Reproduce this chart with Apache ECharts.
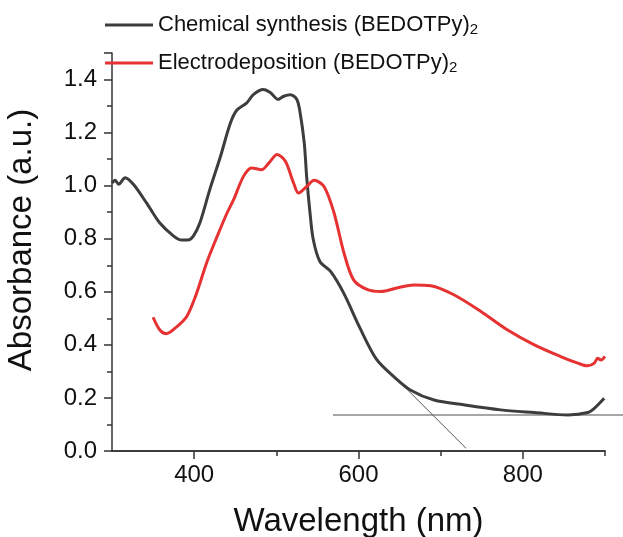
<!DOCTYPE html>
<html>
<head>
<meta charset="utf-8">
<script src="https://cdn.jsdelivr.net/npm/echarts@6/dist/echarts.min.js"></script>
<style>
  html, body { margin: 0; padding: 0; background: #fff; }
  #chart { width: 623px; height: 537px; }
</style>
</head>
<body>
<div id="chart"></div>
<script>
// wavelength (nm), absorbance (a.u.)
const chemical = [
  [300, 1.01], [304, 1.02], [308, 1.005], [316, 1.03], [326, 1.005], [342, 0.935],
  [358, 0.86], [375, 0.81], [385, 0.795], [392, 0.795], [399, 0.81], [407, 0.86],
  [419, 0.985], [432, 1.11], [444, 1.235], [452, 1.285], [464, 1.312], [472, 1.343],
  [484, 1.362], [493, 1.35], [502, 1.325], [509, 1.337], [517, 1.343], [525, 1.325],
  [529, 1.274], [534, 1.16], [537, 1.03], [541, 0.897], [545, 0.796], [553, 0.714],
  [566, 0.677], [582, 0.595], [602, 0.462], [622, 0.345], [643, 0.28], [663, 0.23],
  [692, 0.192], [728, 0.174], [773, 0.155], [814, 0.145], [855, 0.136], [879, 0.145],
  [887, 0.161], [899, 0.199]
];
const electro = [
  [350, 0.504], [358, 0.457], [366, 0.442], [379, 0.469], [391, 0.507], [403, 0.595],
  [415, 0.708], [428, 0.809], [440, 0.897], [448, 0.947], [460, 1.035], [470, 1.067],
  [482, 1.06], [491, 1.086], [501, 1.117], [511, 1.092], [521, 1.01], [527, 0.972],
  [537, 0.997], [546, 1.02], [558, 0.997], [570, 0.9], [582, 0.75], [594, 0.645],
  [611, 0.608], [627, 0.601], [648, 0.615], [667, 0.626], [688, 0.623], [716, 0.589],
  [749, 0.526], [781, 0.457], [814, 0.4], [846, 0.356], [867, 0.331], [879, 0.321],
  [887, 0.331], [891, 0.35], [895, 0.343], [900, 0.356]
];
// onset construction lines; the baseline runs past the frame to the page edge
const baseline = [[569, 0.136], [922, 0.136]];
const tangent = [[621, 0.35], [731, 0.01]];

const seriesNames = ['Chemical synthesis', 'Electrodeposition'];
const xLabels = [400, 600, 800];
const xMinor = [500, 700, 900];

const font = 'Arial, "Liberation Sans", sans-serif';
const axisColor = '#333';

const chart = echarts.init(document.getElementById('chart'));

const hiddenAxis = {
  show: false,
  splitLine: { show: false }
};

const option = {
  animation: false,
  grid: [
    { left: 112, right: 18, top: 53, bottom: 86, outerBoundsMode: 'none' },
    // same frame, widened to the right so the baseline can run to the edge
    { left: 112, right: 0, top: 53, bottom: 86, outerBoundsMode: 'none' }
  ],
  legend: {
    orient: 'vertical',
    left: 100,
    top: 6,
    itemWidth: 48,
    itemHeight: 3,
    itemGap: 12,
    icon: 'rect',
    data: seriesNames,
    formatter: name => '{a|' + name + ' (BEDOTPy)}{s|2}',
    textStyle: {
      rich: {
        a: { fontSize: 22, fontFamily: font, color: '#111', lineHeight: 24 },
        s: { fontSize: 15, fontFamily: font, color: '#111', lineHeight: 24, verticalAlign: 'bottom', padding: [11, 0, 0, 0] }
      }
    }
  },
  xAxis: [{
    type: 'value',
    gridIndex: 0,
    min: 300,
    max: 900,
    interval: 100,
    name: 'Wavelength (nm)',
    nameLocation: 'middle',
    nameGap: 54,
    nameTextStyle: { fontSize: 33, fontFamily: font, color: '#111' },
    splitLine: { show: false },
    axisLine: { lineStyle: { color: axisColor, width: 1.5 } },
    axisTick: { customValues: xLabels, length: 8, lineStyle: { color: axisColor, width: 1.5 } },
    axisLabel: { customValues: xLabels, fontSize: 24, fontFamily: font, color: '#111', margin: 12 }
  }, {
    type: 'value',
    gridIndex: 0,
    min: 300,
    max: 900,
    position: 'bottom',
    splitLine: { show: false },
    axisLine: { lineStyle: { color: axisColor, width: 1.5 } },
    axisTick: { customValues: xMinor, length: 5, lineStyle: { color: axisColor, width: 1.5 } },
    axisLabel: { show: false }
  }, Object.assign({ type: 'value', gridIndex: 1, min: 300, max: 922 }, hiddenAxis)],
  yAxis: [{
    type: 'value',
    gridIndex: 0,
    min: 0,
    max: 1.5,
    interval: 0.2,
    name: 'Absorbance (a.u.)',
    nameLocation: 'middle',
    nameGap: 74,
    nameTextStyle: { fontSize: 33, fontFamily: font, color: '#111', padding: [0, 0, 0, 24] },
    splitLine: { show: false },
    axisLine: { show: true, lineStyle: { color: axisColor, width: 1.5 } },
    axisTick: { length: 8, lineStyle: { color: axisColor, width: 1.5 } },
    minorTick: { show: true, splitNumber: 2, length: 5, lineStyle: { color: axisColor, width: 1.5 } },
    axisLabel: {
      fontSize: 24, fontFamily: font, color: '#111', margin: 15, showMaxLabel: false,
      formatter: v => v.toFixed(1)
    }
  }, Object.assign({ type: 'value', gridIndex: 1, min: 0, max: 1.5 }, hiddenAxis)],
  series: [{
    name: seriesNames[0],
    type: 'line',
    data: chemical,
    smooth: 0.3,
    symbol: 'none',
    lineStyle: { color: '#3d3d3d', width: 3 },
    itemStyle: { color: '#3d3d3d' },
    z: 3
  }, {
    name: seriesNames[1],
    type: 'line',
    data: electro,
    smooth: 0.3,
    symbol: 'none',
    lineStyle: { color: '#e63232', width: 3 },
    itemStyle: { color: '#e63232' },
    z: 3
  }, {
    type: 'line',
    xAxisIndex: 2,
    yAxisIndex: 1,
    data: baseline,
    symbol: 'none',
    silent: true,
    lineStyle: { color: '#8a8a8a', width: 1.5 },
    z: 2
  }, {
    type: 'line',
    data: tangent,
    symbol: 'none',
    silent: true,
    lineStyle: { color: '#555', width: 1 },
    z: 2
  }]
};

chart.setOption(option);
</script>
</body>
</html>
